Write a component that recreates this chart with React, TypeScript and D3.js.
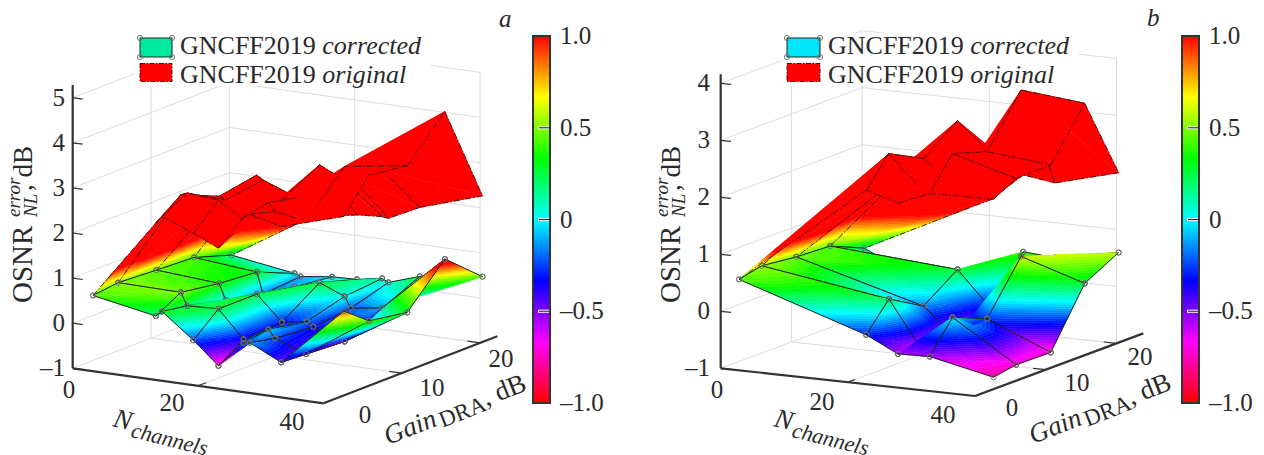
import React from "react";
import * as d3 from "d3";

// ---------- data ----------
const GAINS = [17.4, 14.2, 9.3, 4.5, -0.3];

const CHANNELS_A = [0, 10, 11, 16, 20, 24, 25, 30, 40];
const CORRECTED_A = [
  [0.44, 0.51, 0.46, 0.42, 0.15],
  [0.18, 0.49, 0.36, 0.29, -0.06],
  [0.3, 0.21, 0.01, -0.18, -0.11],
  [-0.24, 0.24, 0.24, 0.08, -0.02],
  [-0.73, -0.36, -0.31, 0.25, 0.0],
  [-0.15, -0.06, -0.21, 0.02, 0.1],
  [-0.12, -0.24, -0.31, -0.22, 0.03],
  [-0.46, -0.49, -0.54, -0.12, 0.26],
  [0.87, 0.44, 0.3, 1.16, 0.45],
];
const ORIGINAL_A = [
  [0.44, 0.51, 0.46, 0.42, 0.15],
  [2.24, 2.65, 2.29, 2.44, 1.01],
  [2.4, 2.71, 2.23, 2.35, 1.11],
  [2.13, 2.65, 1.92, 2.08, 1.32],
  [1.88, 2.29, 2.41, 2.86, 1.43],
  [2.64, 2.75, 2.56, 2.6, 1.47],
  [2.73, 2.57, 2.46, 2.7, 1.45],
  [2.55, 2.45, 3.34, 2.94, 1.79],
  [2.97, 3.67, 3.55, 4.43, 2.24],
];

const CHANNELS_B = [0, 20, 25, 30, 40];
const CORRECTED_B = [
  [0.44, 0.53, 0.46, 0.43, 0.17],
  [-0.29, 0.19, -0.16, 0.26, -0.85],
  [-0.565, -0.61, -0.635, -0.33, 0.41],
  [-0.55, -0.01, -0.26, 0.61, 0.37],
  [-0.79, -0.72, -0.73, 0.26, 0.58],
];
const ORIGINAL_B = [
  [0.44, 0.53, 0.46, 0.43, 0.17],
  [2.25, 2.74, 2.43, 2.87, 1.27],
  [2.08, 2.19, 1.97, 2.39, 1.76],
  [2.31, 2.86, 2.67, 3.53, 1.68],
  [2.33, 2.55, 2.56, 3.42, 1.98],
];

const Z_TICKS_A = [-1, 0, 1, 2, 3, 4, 5];
const Z_TICKS_B = [-1, 0, 1, 2, 3, 4];
const N_TICKS = [0, 20, 40];
const G_TICKS = [20, 10, 0];
const CB_TICKS = [1, 0.5, 0, -0.5, -1];
const CB_LABELS = ["1.0", "0.5", "0", "–0.5", "–1.0"];
const LEGEND_LABELS = ["corrected", "original"];

// ---------- colour ----------
const hue = d3.scaleLinear().domain([-1, 1]).range([360, 0]).clamp(true);
const colorOf = (z: number) => d3.hsl(hue(z), 1, 0.5).formatHex();
const CB_STOPS = d3.range(-1, 1.0001, 1 / 6);

const SERIF = "'Liberation Serif', 'Times New Roman', serif";
const INK = "#333";
const GRID = "#dcdcdc";

type P3 = { x: number; y: number; z: number };

function clipBand(poly: P3[], lo: number, hi: number): P3[] {
  const clip = (pts: P3[], inside: (p: P3) => boolean, lim: number) => {
    const out: P3[] = [];
    for (let i = 0; i < pts.length; i++) {
      const a = pts[i];
      const b = pts[(i + 1) % pts.length];
      const ia = inside(a);
      const ib = inside(b);
      if (ia) out.push(a);
      if (ia !== ib) {
        const t = (lim - a.z) / (b.z - a.z);
        out.push({ x: a.x + t * (b.x - a.x), y: a.y + t * (b.y - a.y), z: lim });
      }
    }
    return out;
  };
  const first = clip(poly, (p) => p.z >= lo, lo);
  return first.length ? clip(first, (p) => p.z <= hi, hi) : first;
}

const polyPath = (pts: P3[]) => {
  const p = d3.path();
  pts.forEach((q, i) => (i ? p.lineTo(q.x, q.y) : p.moveTo(q.x, q.y)));
  p.closePath();
  return p.toString();
};

function Surface({ project, depth, channels, values, dashed, markers }: any) {
  const items: any[] = [];
  const V = channels.map((n: number, i: number) =>
    GAINS.map((g, j) => ({ ...project(n, g, values[i][j]), z: values[i][j], key: depth(n, g, values[i][j]) }))
  );
  for (let i = 0; i < channels.length - 1; i++) {
    for (let j = 0; j < GAINS.length - 1; j++) {
      const a = V[i][j], b = V[i + 1][j], c = V[i + 1][j + 1], d = V[i][j + 1];
      items.push({ tri: [a, b, c], edges: [[a, b], [b, c]], key: (a.key + b.key + c.key) / 3 });
      items.push({ tri: [a, c, d], edges: [[c, d], [d, a]], key: (a.key + c.key + d.key) / 3 });
    }
  }
  items.sort((p, q) => p.key - q.key);
  const STEP = 0.03;
  return (
    <g>
      {items.map((it, k) => {
        const zs = it.tri.map((p: P3) => p.z);
        const lo = Math.floor((Math.max(-1, d3.min(zs) as number) + 1) / STEP);
        const hi = Math.ceil((Math.min(1, d3.max(zs) as number) + 1) / STEP);
        const bands: any[] = [];
        if ((d3.min(zs) as number) >= 1) {
          bands.push({ d: polyPath(it.tri), c: colorOf(1) });
        } else {
          for (let b = lo; b < hi; b++) {
            const zl = b * STEP - 1;
            const zh = (b + 1) * STEP - 1;
            const pg = clipBand(it.tri, zl, zh >= 1 - 1e-6 ? 99 : zh);
            if (pg.length >= 3) bands.push({ d: polyPath(pg), c: colorOf((zl + zh) / 2) });
          }
        }
        return (
          <g key={k}>
            {bands.map((b, i) => (
              <path key={i} d={b.d} fill={b.c} stroke={b.c} strokeWidth={0.5} />
            ))}
            {it.edges.map((e: any[], i: number) => (
              <line
                key={i}
                x1={e[0].x}
                y1={e[0].y}
                x2={e[1].x}
                y2={e[1].y}
                stroke={dashed ? "#3a1010" : "#222"}
                strokeWidth={dashed ? 0.9 : 1}
                strokeDasharray={dashed ? "6 2 1.5 2" : undefined}
              />
            ))}
            {markers &&
              it.tri.map((p: P3, i: number) => (
                <circle key={i} cx={p.x} cy={p.y} r={2.6} fill="none" stroke="#6a6a6a" strokeWidth={0.9} />
              ))}
          </g>
        );
      })}
    </g>
  );
}

function Panel({ cfg }: { cfg: any }) {
  const nX = d3.scaleLinear().domain([0, 40]).range([0, cfg.nx * 40]);
  const nY = d3.scaleLinear().domain([0, 40]).range([0, cfg.ny * 40]);
  const gX = d3.scaleLinear().domain([20, 0]).range([0, cfg.gx * 20]);
  const gY = d3.scaleLinear().domain([20, 0]).range([0, -cfg.gy * 20]);
  const zS = d3.scaleLinear().domain([-1, 0]).range([0, cfg.zs]);
  const project = (n: number, g: number, z: number) => ({
    x: cfg.ox + nX(n) + gX(g),
    y: cfg.oy + nY(n) + gY(g) - zS(z),
  });
  const depth = (n: number, g: number, z: number) => nY(n) + gY(g) + 0.055 * zS(z);
  const Seg = ({ a, b, color, w }: any) => (
    <line x1={a.x} y1={a.y} x2={b.x} y2={b.y} stroke={color} strokeWidth={w} />
  );
  const zMax = cfg.zTicks[cfg.zTicks.length - 1];
  const grid: any[] = [];
  cfg.zTicks.forEach((z: number) => {
    grid.push([project(0, 20, z), project(0, 0, z)]);
    grid.push([project(0, 0, z), project(40, 0, z)]);
  });
  [10, 0].forEach((g) => {
    grid.push([project(0, g, -1), project(0, g, zMax)]);
    grid.push([project(0, g, -1), project(40, g, -1)]);
  });
  [20, 40].forEach((n) => {
    grid.push([project(n, 0, -1), project(n, 0, zMax)]);
    grid.push([project(n, 20, -1), project(n, 0, -1)]);
  });
  const corner = project(40, 20, -1);
  const cb = d3.scaleLinear().domain([1, -1]).range([cfg.cbTop, cfg.cbBottom]);
  const grad = `cb-${cfg.id}`;
  const L = cfg.legend;
  const handles = [
    [L.x, L.y1],
    [L.x + L.w, L.y1],
    [L.x, L.y1 + L.h1],
    [L.x + L.w, L.y1 + L.h1],
  ];
  return (
    <g fontFamily={SERIF} fill="#2a2a2a">
      <defs>
        <linearGradient id={grad} x1="0" y1="1" x2="0" y2="0">
          {CB_STOPS.map((z, i) => (
            <stop key={i} offset={(z + 1) / 2} stopColor={colorOf(z)} />
          ))}
        </linearGradient>
      </defs>
      {grid.map((g, i) => (
        <Seg key={i} a={g[0]} b={g[1]} color={GRID} w={1} />
      ))}

      {/* axes */}
      <Seg a={project(0, 20, -1)} b={project(0, 20, cfg.zTop)} color={INK} w={2.2} />
      <Seg a={project(0, 20, -1)} b={corner} color={INK} w={2.2} />
      <Seg a={corner} b={project(40, cfg.gEnd, -1)} color={INK} w={2.2} />
      {cfg.zTicks.map((z: number) => (
        <Seg key={z} a={project(0, 20, z)} b={project(1.6, 20, z)} color={INK} w={1.2} />
      ))}
      {[20, 40].map((n) => (
        <Seg key={n} a={project(n, 20, -1)} b={project(n, 19, -1)} color={INK} w={1.2} />
      ))}
      {[10, 0].map((g) => (
        <Seg key={g} a={project(40, g, -1)} b={project(38, g, -1)} color={INK} w={1.2} />
      ))}

      <Surface project={project} depth={depth} channels={cfg.channels} values={cfg.original} dashed />
      <Surface project={project} depth={depth} channels={cfg.channels} values={cfg.corrected} markers />

      {/* legend */}
      <rect x={L.bx} y={33} width={L.bw} height={53} fill="#fff" />
      <rect x={L.x} y={L.y1} width={L.w} height={L.h1} fill={cfg.legendColor} stroke="#222" strokeWidth={1} />
      {handles.map((h, i) => (
        <circle key={i} cx={h[0]} cy={h[1]} r={2.6} fill="none" stroke="#6a6a6a" strokeWidth={0.9} />
      ))}
      <rect x={L.x} y={L.y2} width={L.w} height={L.h2} fill="#f00" stroke="#4a1010" strokeWidth={1} strokeDasharray="5 1.5 1.5 1.5" />
      {LEGEND_LABELS.map((t, i) => (
        <text key={t} x={L.tx} y={i ? 83 : 54} fontSize={26}>
          GNCFF2019 <tspan fontStyle="italic">{t}</tspan>
        </text>
      ))}

      {/* tick labels */}
      {cfg.zTicks.map((z: number) => (
        <text key={z} x={cfg.zLabelX} y={project(0, 20, z).y + 8} textAnchor="end" fontSize={25}>
          {z < 0 ? "–" + Math.abs(z) : z}
        </text>
      ))}
      {N_TICKS.map((n, i) => (
        <text key={n} x={cfg.nLabels[i][0]} y={cfg.nLabels[i][1] + 8} textAnchor="middle" fontSize={25}>
          {n}
        </text>
      ))}
      {G_TICKS.map((g, i) => (
        <text key={g} x={cfg.gLabels[i][0]} y={cfg.gLabels[i][1] + 8} textAnchor="middle" fontSize={25}>
          {g}
        </text>
      ))}

      {/* axis titles */}
      <g transform={`translate(${cfg.yTitleX},303) rotate(-90)`}>
        <text x={0} y={0} fontSize={29}>OSNR</text>
        <text x={86} y={-12} fontSize={19} fontStyle="italic">error</text>
        <text x={86} y={5} fontSize={19} fontStyle="italic">NL</text>
        <text x={112} y={0} fontSize={27}>, dB</text>
      </g>
      <text transform={`translate(${cfg.nTitle[0]},${cfg.nTitle[1]}) rotate(14)`} fontSize={27} fontStyle="italic">
        N
        <tspan dy={6} dx={2} fontSize={22}>channels</tspan>
      </text>
      <text transform={`translate(${cfg.gTitle[0]},${cfg.gTitle[1]}) rotate(-21.5)`} fontSize={27}>
        <tspan fontStyle="italic">Gain</tspan>
        <tspan dx={3} dy={4} fontSize={23}>DRA</tspan>
        <tspan dy={-4}>, dB</tspan>
      </text>
      <text x={cfg.tagX} y={cfg.tagY} fontSize={25} fontStyle="italic">{cfg.id}</text>

      {/* colour bar */}
      <rect x={cfg.cbX} y={cfg.cbTop} width={17} height={cfg.cbBottom - cfg.cbTop} fill={`url(#${grad})`} stroke={INK} strokeWidth={2} />
      {CB_TICKS.map((t, i) => (
        <g key={t}>
          {Math.abs(t) < 1 && (
            <>
              <rect x={cfg.cbX + 5} y={cb(t) - 1.6} width={11} height={3.2} fill="#eee" />
              <line x1={cfg.cbX + 6} x2={cfg.cbX + 16} y1={cb(t)} y2={cb(t)} stroke="#222" strokeWidth={1} />
            </>
          )}
          <text x={cfg.cbX + 27} y={cb(t) + 8} fontSize={25}>{CB_LABELS[i]}</text>
        </g>
      ))}
    </g>
  );
}

const PANEL_A = {
  id: "a",
  channels: CHANNELS_A,
  corrected: CORRECTED_A,
  original: ORIGINAL_A,
  zTicks: Z_TICKS_A,
  ox: 72.7, oy: 368.3, nx: 6.27, ny: 0.875, gx: 7.83, gy: 3.02, zs: 45.1,
  zTop: 5.28, gEnd: -2.2,
  zLabelX: 65, yTitleX: 32,
  nLabels: [[69, 390], [172, 403], [292, 422]],
  gLabels: [[501, 359], [432, 388], [365, 415]],
  nTitle: [112, 426], gTitle: [388, 445],
  tagX: 499, tagY: 27,
  cbX: 533, cbTop: 36, cbBottom: 403,
  legendColor: "#00eba0",
  legend: { bx: 135, bw: 296, x: 140, y1: 38, w: 32, h1: 19, y2: 63.5, h2: 18, tx: 180 },
};

const PANEL_B = {
  id: "b",
  channels: CHANNELS_B,
  corrected: CORRECTED_B,
  original: ORIGINAL_B,
  zTicks: Z_TICKS_B,
  ox: 720.7, oy: 368.3, nx: 6.36, ny: 0.692, gx: 7.07, gy: 2.63, zs: 57,
  zTop: 4.16, gEnd: -3.8,
  zLabelX: 710, yTitleX: 680,
  nLabels: [[717, 390], [822, 402], [943, 415]],
  gLabels: [[1140, 357], [1077, 383], [1012, 408]],
  nTitle: [773, 426], gTitle: [1033, 444],
  tagX: 1147, tagY: 26,
  cbX: 1182, cbTop: 36, cbBottom: 403,
  legendColor: "#00e5f8",
  legend: { bx: 783, bw: 296, x: 787, y1: 38, w: 33, h1: 19, y2: 63.5, h2: 18, tx: 828 },
};

export default function App() {
  return (
    <svg
      width={1264}
      height={455}
      viewBox="0 0 1264 455"
      style={{ position: "absolute", left: 0, top: 0, display: "block", background: "#fff" }}
    >
      <Panel cfg={PANEL_A} />
      <Panel cfg={PANEL_B} />
    </svg>
  );
}
